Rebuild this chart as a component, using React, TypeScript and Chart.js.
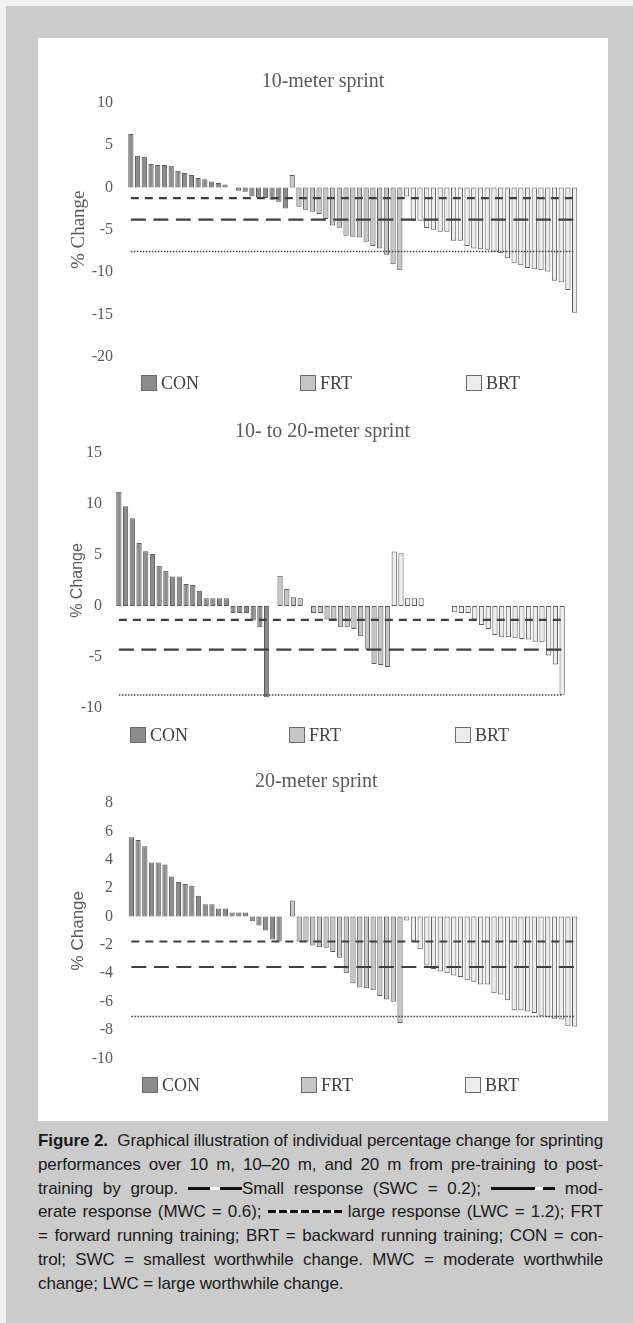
import React, { useEffect, useRef } from "react";
import { Chart, registerables } from "chart.js";

Chart.register(...registerables);

// ---------- data: 10-meter sprint ----------
const con10 = [6.3, 3.74, 3.62, 2.76, 2.64, 2.64, 2.56, 1.97, 1.69, 1.46, 1.1, 0.98, 0.71, 0.51, 0.35, null, -0.39, -0.5, -1.06, -1.18, -1.26, -1.46, -1.69, -2.48];
const frt10 = [1.46, -2.28, -2.64, -2.87, -3.15, -3.74, -4.5, -4.75, -5.7, -5.83, -5.9, -6.4, -6.9, -7.2, -7.95, -9.06, -9.76];
const brt10 = [-1.06, -3.94, -3.94, -4.8, -5.0, -5.24, -5.24, -6.3, -6.3, -6.9, -7.2, -7.3, -7.36, -7.6, -7.76, -8.35, -8.94, -9.17, -9.5, -9.65, -9.76, -9.92, -11.0, -11.2, -12.1, -14.8];
const ref10 = [-1.25, -3.8, -7.55]; // small, moderate, large
const ticks10 = [10, 5, 0, -5, -10, -15, -20];

// ---------- data: 10- to 20-meter sprint ----------
const con1020 = [11.2, 9.77, 8.6, 6.18, 5.36, 5.1, 3.95, 3.46, 2.88, 2.88, 2.16, 2.06, 1.5, 0.75, 0.75, 0.75, 0.75, -0.69, -0.69, -0.69, -1.44, -2.1, -8.95, null];
const frt1020 = [2.97, 1.67, 0.85, 0.75, null, -0.69, -0.69, -1.34, -1.34, -2.1, -2.1, -2.25, -2.97, -4.2, -5.7, -5.8, -6.0];
const brt1020 = [5.33, 5.16, 0.75, 0.75, 0.75, null, null, null, null, -0.62, -0.69, -0.69, -1.34, -1.86, -2.25, -2.84, -3.07, -3.07, -3.17, -3.24, -3.3, -3.5, -3.56, -4.87, -5.75, -8.7];
const ref1020 = [-1.37, -4.28, -8.73];
const ticks1020 = [15, 10, 5, 0, -5, -10];

// ---------- data: 20-meter sprint ----------
const con20 = [5.59, 5.4, 4.95, 3.8, 3.8, 3.66, 2.82, 2.44, 2.3, 2.16, 1.46, 0.87, 0.87, 0.56, 0.56, 0.28, 0.28, 0.28, -0.33, -0.63, -0.99, -1.62, -1.76, null];
const frt20 = [1.13, -1.76, -1.76, -2.04, -2.16, -2.2, -2.5, -2.9, -4.0, -4.7, -5.0, -5.05, -5.2, -5.6, -5.85, -6.0, -7.5];
const brt20 = [-0.28, -1.7, -2.3, -3.45, -3.7, -3.87, -4.0, -4.15, -4.27, -4.5, -4.6, -4.8, -4.8, -5.4, -5.5, -5.9, -6.6, -6.6, -6.7, -6.8, -7.0, -7.1, -7.2, -7.25, -7.7, -7.75];
const ref20 = [-1.76, -3.56, -7.04];
const ticks20 = [8, 6, 4, 2, 0, -2, -4, -6, -8, -10];

const groupNames = ["CON", "FRT", "BRT"];
const titles = ["10-meter sprint", "10- to 20-meter sprint", "20-meter sprint"];

// ---------- styles ----------
const FILLS = ["#8c8c8c", "#c6c6c6", "#ededed"];
const EDGE = "#5a5a5a";
const LINE = "#3f3f3f";
const TEXT = "#595959";
const SERIF = "'Liberation Serif', 'Times New Roman', serif";
const SANS = "'Liberation Sans', Arial, sans-serif";

type Layout = {
  top: number; height: number;
  pl: number; pr: number;
  titlePadTop: number; titlePadBottom: number;
  yWidth: number; tickPad: number;
  yTitleFont: string; yTitleSize: number; yTitlePad: number;
  legendTop: number; legendX: number[];
};

type Spec = {
  title: string; con: (number | null)[]; frt: (number | null)[]; brt: (number | null)[];
  refs: number[]; ticks: number[]; layout: Layout;
};

// canvas bottom = plot bottom + half label height (9.6) + tick padding
const specs: Spec[] = [
  {
    title: titles[0], con: con10, frt: frt10, brt: brt10, refs: ref10, ticks: ticks10,
    layout: { top: 50, height: 331, pl: 30, pr: 30, titlePadTop: 20, titlePadBottom: 8.7, yWidth: 59.5, tickPad: 14.5, yTitleFont: SERIF, yTitleSize: 19, yTitlePad: 0, legendTop: 374, legendX: [141, 300, 466] },
  },
  {
    title: titles[1], con: con1020, frt: frt1020, brt: brt1020, refs: ref1020, ticks: ticks1020,
    layout: { top: 405, height: 326, pl: 41.5, pr: 42.5, titlePadTop: 14.7, titlePadBottom: 9.3, yWidth: 36, tickPad: 13.5, yTitleFont: SANS, yTitleSize: 16, yTitlePad: -12, legendTop: 726, legendX: [130, 289, 455] },
  },
  {
    title: titles[2], con: con20, frt: frt20, brt: brt20, refs: ref20, ticks: ticks20,
    layout: { top: 755, height: 328, pl: 16.6, pr: 30, titlePadTop: 14.7, titlePadBottom: 9.3, yWidth: 73.4, tickPad: 15, yTitleFont: SANS, yTitleSize: 17, yTitlePad: 13.5, legendTop: 1076, legendX: [142, 301, 465] },
  },
];

const PANEL_LEFT = 38;
const CANVAS_W = 570;

function SprintChart({ spec }: { spec: Spec }) {
  const ref = useRef<HTMLCanvasElement>(null);
  useEffect(() => {
    const L = spec.layout;
    const groups = [spec.con, spec.frt, spec.brt];
    const n = groups.reduce((s, g) => s + g.length, 0);
    const labels = Array.from({ length: n }, (_, i) => String(i + 1));
    let offset = 0;
    const barSets = groups.map((g, gi) => {
      const data: (number | null)[] = labels.map(() => null);
      g.forEach((v, i) => { data[offset + i] = v; });
      offset += g.length;
      return {
        type: "bar" as const,
        label: groupNames[gi],
        data,
        backgroundColor: FILLS[gi],
        borderColor: EDGE,
        borderWidth: 1,
        borderSkipped: false,
        barPercentage: 0.78,
        categoryPercentage: 1,
        grouped: false,
        order: 2,
      };
    });
    const dashes = [[8, 6], [15, 7.5], [1.5, 1.5]];
    const widths = [2.2, 2.2, 1.5];
    const lineSets = spec.refs.map((v, i) => ({
      type: "line" as const,
      label: ["Small", "Moderate", "Large"][i],
      data: labels.map(() => v),
      borderColor: LINE,
      borderWidth: widths[i],
      borderDash: dashes[i],
      pointRadius: 0,
      fill: false,
      order: 1,
    }));
    const ticks = spec.ticks;
    const chart = new Chart(ref.current as HTMLCanvasElement, {
      type: "bar",
      data: { labels, datasets: [...lineSets, ...barSets] as any },
      options: {
        responsive: false,
        animation: false,
        devicePixelRatio: 1,
        layout: { padding: { left: L.pl, right: L.pr, top: 0, bottom: 0 } },
        plugins: {
          legend: { display: false },
          tooltip: { enabled: false },
          title: {
            display: true,
            text: spec.title,
            color: TEXT,
            font: { family: SERIF, size: 20, weight: "normal", lineHeight: 1.2 },
            padding: { top: L.titlePadTop, bottom: L.titlePadBottom },
          },
        },
        scales: {
          x: { display: false, offset: true },
          y: {
            min: Math.min(...ticks),
            max: Math.max(...ticks),
            afterBuildTicks: (scale: any) => { scale.ticks = ticks.map((v) => ({ value: v })); },
            afterFit: (scale: any) => { scale.width = L.yWidth; },
            grid: { display: false, drawTicks: false },
            border: { display: false },
            ticks: { color: TEXT, font: { family: SERIF, size: 16, lineHeight: 1.2 }, padding: L.tickPad, callback: (v: any) => String(v) },
            title: {
              display: true,
              text: "% Change",
              color: TEXT,
              font: { family: L.yTitleFont, size: L.yTitleSize, lineHeight: 1.2 },
              padding: { top: L.yTitlePad, bottom: 0 },
            },
          },
        },
      } as any,
    });
    return () => chart.destroy();
  }, []);
  const L = spec.layout;
  return (
    <>
      <canvas
        ref={ref}
        width={CANVAS_W}
        height={L.height}
        style={{ position: "absolute", left: PANEL_LEFT, top: L.top, width: CANVAS_W, height: L.height }}
      />
      {groupNames.map((g, i) => (
        <div key={g} style={{ position: "absolute", left: L.legendX[i], top: L.legendTop, height: 18, display: "flex", alignItems: "center", fontFamily: SERIF, fontSize: 18, color: "#404040", whiteSpace: "nowrap" }}>
          <span style={{ display: "inline-block", width: 16, height: 16, boxSizing: "border-box", border: "1px solid #6a6a6a", background: FILLS[i], marginRight: 4 }} />
          {g}
        </div>
      ))}
    </>
  );
}

const bar = (w: number, color = "#111") => (
  <span style={{ display: "inline-block", width: w, height: 3, background: color, verticalAlign: "middle", marginTop: -2 }} />
);

const captionLines: React.ReactNode[] = [
  <><b>Figure 2.</b>&nbsp; Graphical illustration of individual percentage change for sprinting</>,
  <>performances over 10 m, 10–20 m, and 20 m from pre-training to post-</>,
  <>training by group. <span style={{ whiteSpace: "nowrap" }}>{bar(22)}{bar(10, "#fff")}{bar(22)}Small</span> response (SWC = 0.2); <span style={{ whiteSpace: "nowrap" }}>{bar(44)}{bar(8, "#fff")}{bar(12)}</span> mod-</>,
  <>erate response (MWC = 0.6); <span style={{ display: "inline-block", width: 74, height: 3, verticalAlign: "middle", marginTop: -2, background: "repeating-linear-gradient(90deg, #111 0 8px, #fff 8px 11px)" }} /> large response (LWC = 1.2); FRT</>,
  <>= forward running training; BRT = backward running training; CON = con-</>,
  <>trol; SWC = smallest worthwhile change. MWC = moderate worthwhile</>,
  <>change; LWC = large worthwhile change.</>,
];

export default function App() {
  return (
    <div style={{ position: "absolute", left: 0, top: 0, width: 633, height: 1323, background: "#cbcbcb", overflow: "hidden" }}>
      <div style={{ position: "absolute", left: 0, top: 0, width: 633, height: 6, background: "#f2f2f2" }} />
      <div style={{ position: "absolute", left: 0, top: 0, width: 6, height: 1323, background: "#f2f2f2" }} />
      <div style={{ position: "absolute", left: 38, top: 38, width: 570, height: 1083, background: "#ffffff" }} />
      {specs.map((s, i) => <SprintChart key={i} spec={s} />)}
      {captionLines.map((ln, i) => (
        <div
          key={i}
          style={{
            position: "absolute", left: 38, top: 1129 + i * 23.8, width: 565, height: 24, lineHeight: "24px",
            fontFamily: SANS, fontSize: 17, letterSpacing: "-0.1px", color: "#1a1a1a", whiteSpace: "nowrap",
            textAlign: i === captionLines.length - 1 ? "left" : "justify",
            textAlignLast: i === captionLines.length - 1 ? "left" : "justify",
          } as any}
        >
          {ln}
        </div>
      ))}
    </div>
  );
}
